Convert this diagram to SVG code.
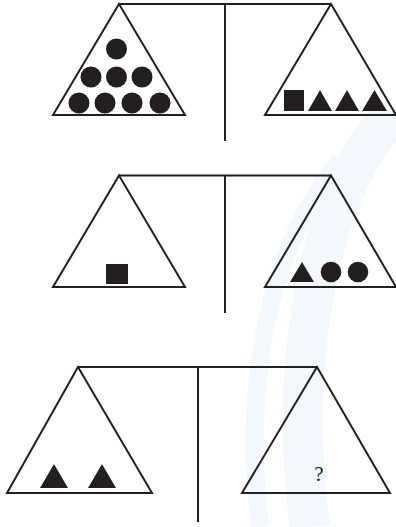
<svg xmlns="http://www.w3.org/2000/svg" width="396" height="527" viewBox="0 0 396 527">
<style>
.ln{fill:none;stroke:#231f20;stroke-width:2;stroke-linejoin:miter}
.pan{fill:none;stroke:#231f20;stroke-width:2;stroke-linejoin:miter}
.sh{fill:#231f20}
.wm{fill:none;stroke:#f2f8fd}
</style>
<g id="watermark">
<path class="wm" d="M310 527 C 290 380, 310 200, 396 110" stroke-width="40"/>
<path class="wm" d="M260 527 C 245 400, 260 260, 340 160" stroke-width="18"/>
</g>
<g id="connectors">
<line class="ln" x1="119" y1="4" x2="331" y2="4"/>
<line class="ln" x1="225" y1="4" x2="225" y2="141"/>
<line class="ln" x1="119" y1="175.5" x2="331" y2="175.5"/>
<line class="ln" x1="225" y1="175.5" x2="225" y2="313"/>
<line class="ln" x1="78" y1="367" x2="317" y2="367"/>
<line class="ln" x1="198" y1="367" x2="198" y2="522"/>
</g>
<g id="pan1-left">
<polygon class="pan" points="119,4 185,115 53,115"/>
<circle class="sh" cx="116.5" cy="49" r="10.5"/>
<circle class="sh" cx="91" cy="77" r="10.5"/>
<circle class="sh" cx="116.5" cy="77" r="10.5"/>
<circle class="sh" cx="142" cy="77" r="10.5"/>
<circle class="sh" cx="79" cy="103" r="10.5"/>
<circle class="sh" cx="105" cy="103" r="10.5"/>
<circle class="sh" cx="132" cy="103" r="10.5"/>
<circle class="sh" cx="160" cy="103" r="10.5"/>
</g>
<g id="pan1-right">
<polygon class="pan" points="331,4 396,115 265,115"/>
<rect class="sh" x="284" y="90" width="20" height="21"/>
<polygon class="sh" points="320,90 332,111 308,111"/>
<polygon class="sh" points="347,90 359,111 335,111"/>
<polygon class="sh" points="374.5,90 387,111 362,111"/>
</g>
<g id="pan2-left">
<polygon class="pan" points="119,175.5 185,287 53,287"/>
<rect class="sh" x="106" y="264" width="22" height="20"/>
</g>
<g id="pan2-right">
<polygon class="pan" points="331,175.5 396,287 265,287"/>
<polygon class="sh" points="302,262 314,282 290,282"/>
<circle class="sh" cx="331" cy="272" r="10.3"/>
<circle class="sh" cx="358" cy="272" r="10.3"/>
</g>
<g id="pan3-left">
<polygon class="pan" points="78,367 152,493 7,493"/>
<polygon class="sh" points="54,464 68,488 40,488"/>
<polygon class="sh" points="102,464 116,488 88,488"/>
</g>
<g id="pan3-right">
<polygon class="pan" points="317,367 390,493 242,493"/>
<text x="319" y="481" font-family="Liberation Serif, serif" font-size="21" text-anchor="middle" fill="#231f20">?</text>
</g>
</svg>
